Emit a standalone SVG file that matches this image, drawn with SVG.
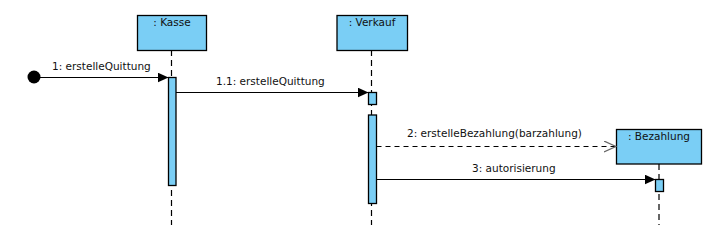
<svg xmlns="http://www.w3.org/2000/svg" width="720" height="225" viewBox="0 0 720 225">
<style>
.box{fill:#7acef5;stroke:#000;stroke-width:1.3}
.act{fill:#7acef5;stroke:#000;stroke-width:1.3}
.life{stroke:#000;stroke-width:1.2;stroke-dasharray:6,4;fill:none}
.msg{stroke:#000;stroke-width:1.2;fill:none}
.dmsg{stroke:#000;stroke-width:1;stroke-dasharray:5,4;fill:none}
text{font-family:"DejaVu Sans","Liberation Sans",sans-serif;font-size:10.5px;fill:#111}
.t{text-anchor:middle}
</style>
<defs>
<marker id="fill" markerWidth="12" markerHeight="10" refX="11" refY="5" orient="auto" markerUnits="userSpaceOnUse">
<path d="M0,0 L11,5 L0,10 Z" fill="#000"/>
</marker>
<marker id="open" markerWidth="14" markerHeight="12" refX="12" refY="6" orient="auto" markerUnits="userSpaceOnUse">
<path d="M0,0.5 L12,6 L0,11.5" fill="none" stroke="#666" stroke-width="1.2"/>
</marker>
</defs>
<g id="kasse">
<line class="life" x1="171.5" y1="50" x2="171.5" y2="225"/>
<rect class="box" x="137.5" y="15.5" width="69" height="35"/>
<text class="t" x="172" y="26">: Kasse</text>
<rect class="act" x="168.5" y="77.5" width="7.5" height="108"/>
</g>
<g id="verkauf">
<line class="life" x1="371.5" y1="50" x2="371.5" y2="225"/>
<rect class="box" x="337" y="15.5" width="70.5" height="35"/>
<text class="t" x="372" y="26">: Verkauf</text>
<rect class="act" x="368.5" y="92.5" width="8" height="12"/>
<rect class="act" x="368.5" y="115" width="8" height="88.5"/>
</g>
<g id="bezahlung">
<line class="life" x1="659" y1="164" x2="659" y2="225"/>
<rect class="box" x="616.5" y="129.5" width="85" height="34.5"/>
<text class="t" x="659" y="140">: Bezahlung</text>
<rect class="act" x="655.5" y="179.5" width="8" height="12"/>
</g>
<g id="start">
<circle cx="34" cy="77" r="6.5" fill="#000"/>
</g>
<g id="connectors">
<line class="msg" x1="40" y1="77.5" x2="168.5" y2="77.5" marker-end="url(#fill)"/>
<text x="52" y="70">1: erstelleQuittung</text>
<line class="msg" x1="176" y1="92.5" x2="368.5" y2="92.5" marker-end="url(#fill)"/>
<text x="216" y="85">1.1: erstelleQuittung</text>
<line class="dmsg" x1="376.5" y1="146.5" x2="616" y2="146.5" marker-end="url(#open)"/>
<text x="407" y="137">2: erstelleBezahlung(barzahlung)</text>
<line class="msg" x1="376.5" y1="179.5" x2="655.5" y2="179.5" marker-end="url(#fill)"/>
<text x="472" y="172">3: autorisierung</text>
</g>
</svg>
